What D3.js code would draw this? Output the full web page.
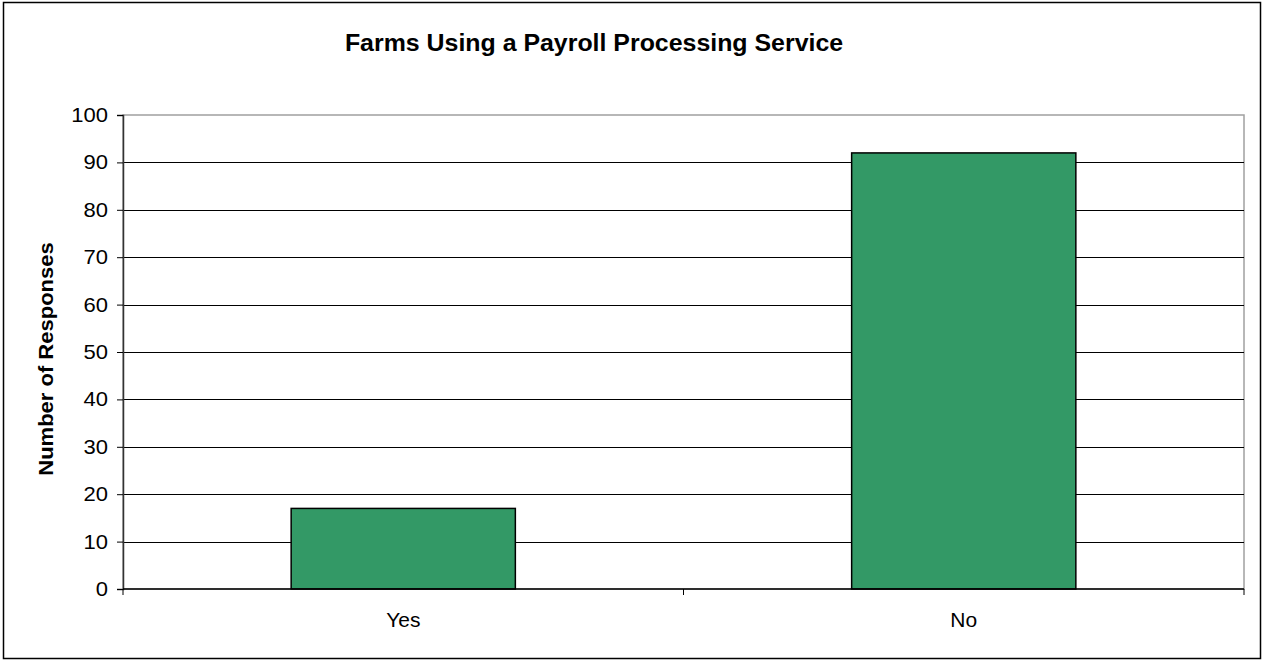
<!DOCTYPE html>
<html>
<head>
<meta charset="utf-8">
<script src="https://cdn.jsdelivr.net/npm/d3@7"></script>
<style>
  body { margin: 0; background: #fff; }
  svg { font-family: "Liberation Sans", Arial, sans-serif; }
</style>
</head>
<body>
<div id="chart"></div>
<script>
var categories = ["Yes", "No"];
var responses = [17, 92];
var yTicks = [0, 10, 20, 30, 40, 50, 60, 70, 80, 90, 100];

var width = 1263, height = 662;
var plot = { left: 123, top: 115, right: 1244, bottom: 589 };

var svg = d3.select("#chart").append("svg")
    .attr("width", width)
    .attr("height", height);

// outer chart frame
svg.append("rect")
    .attr("x", 3.5).attr("y", 2.5)
    .attr("width", 1257).attr("height", 656)
    .attr("fill", "#fff")
    .attr("stroke", "#000")
    .attr("stroke-width", 1.5);

var x = d3.scaleBand()
    .domain(categories)
    .range([plot.left, plot.right])
    .paddingInner(0.6)
    .paddingOuter(0.3);

var y = d3.scaleLinear()
    .domain([0, 100])
    .range([plot.bottom, plot.top]);

// plot area border (top/right grey)
svg.append("rect")
    .attr("x", plot.left).attr("y", plot.top)
    .attr("width", plot.right - plot.left)
    .attr("height", plot.bottom - plot.top)
    .attr("fill", "none")
    .attr("stroke", "#a0a0a0")
    .attr("stroke-width", 1.5);

// gridlines
svg.append("g")
    .selectAll("line")
    .data(yTicks.filter(function (d) { return d > 0 && d < 100; }))
    .enter()
    .append("line")
    .attr("x1", plot.left).attr("x2", plot.right)
    .attr("y1", function (d) { return Math.round(y(d)) + 0.5; })
    .attr("y2", function (d) { return Math.round(y(d)) + 0.5; })
    .attr("stroke", "#000")
    .attr("stroke-width", 1);

// bars
svg.append("g")
    .selectAll("rect")
    .data(responses)
    .enter()
    .append("rect")
    .attr("x", function (d, i) { return x(categories[i]); })
    .attr("y", function (d) { return y(d); })
    .attr("width", x.bandwidth())
    .attr("height", function (d) { return y(0) - y(d); })
    .attr("fill", "#339966")
    .attr("stroke", "#000")
    .attr("stroke-width", 1.5);

// y axis (labels drawn separately so they can be stretched a bit)
var yAxis = svg.append("g")
    .attr("transform", "translate(" + plot.left + ",0)")
    .call(d3.axisLeft(y).tickValues(yTicks).tickSize(6).tickFormat(""));
yAxis.select(".domain").attr("stroke", "#333").attr("stroke-width", 1.5);
yAxis.selectAll(".tick line").attr("stroke", "#000");

svg.append("g")
    .selectAll("g")
    .data(yTicks)
    .enter()
    .append("g")
    .attr("transform", function (d) {
        return "translate(" + (plot.left - 15) + "," + y(d) + ") scale(1.1,1)";
    })
    .append("text")
    .attr("text-anchor", "end")
    .attr("dy", "0.35em")
    .attr("font-size", 20)
    .text(function (d) { return d; });

// x axis with ticks at category boundaries
var xEdge = d3.scaleLinear().domain([0, categories.length]).range([plot.left, plot.right]);
var xAxis = svg.append("g")
    .attr("transform", "translate(0," + plot.bottom + ")");
xAxis.append("line")
    .attr("x1", plot.left).attr("x2", plot.right)
    .attr("stroke", "#000").attr("stroke-width", 1.5);
xAxis.selectAll(".edge")
    .data(d3.range(categories.length + 1))
    .enter()
    .append("line")
    .attr("class", "edge")
    .attr("x1", function (d) { return xEdge(d); })
    .attr("x2", function (d) { return xEdge(d); })
    .attr("y1", 0).attr("y2", 6)
    .attr("stroke", "#000");
xAxis.selectAll(".lbl")
    .data(categories)
    .enter()
    .append("g")
    .attr("class", "lbl")
    .attr("transform", function (d) {
        return "translate(" + (x(d) + x.bandwidth() / 2) + ",38) scale(1.05,1)";
    })
    .append("text")
    .attr("text-anchor", "middle")
    .attr("font-size", 20)
    .text(function (d) { return d; });

// title
svg.append("text")
    .attr("transform", "translate(594,51) scale(1.06,1)")
    .attr("text-anchor", "middle")
    .attr("font-size", 23.5)
    .attr("font-weight", "bold")
    .text("Farms Using a Payroll Processing Service");

// y axis label
svg.append("text")
    .attr("transform", "translate(53,359) rotate(-90) scale(1.1,1)")
    .attr("text-anchor", "middle")
    .attr("font-size", 20)
    .attr("font-weight", "bold")
    .text("Number of Responses");
</script>
</body>
</html>
